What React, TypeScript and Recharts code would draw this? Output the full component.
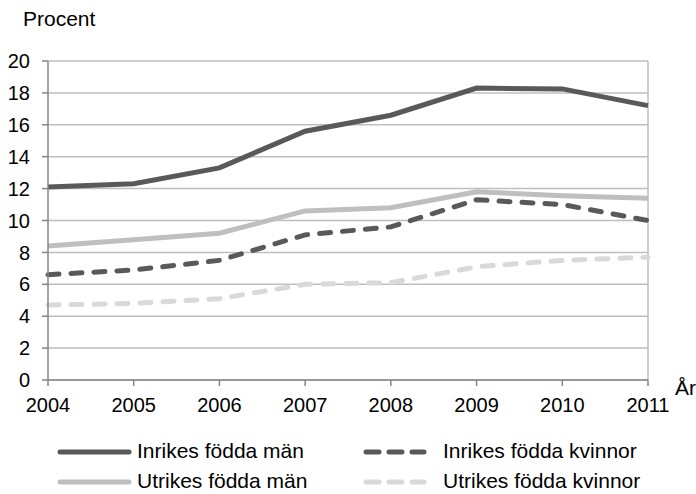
import React from 'react';
import { LineChart, Line, XAxis, YAxis, CartesianGrid, ReferenceLine } from 'recharts';

const years = ['2004', '2005', '2006', '2007', '2008', '2009', '2010', '2011'];
const inrikesMan = [12.1, 12.3, 13.3, 15.6, 16.6, 18.3, 18.25, 17.2];
const inrikesKvinnor = [6.6, 6.9, 7.5, 9.1, 9.6, 11.3, 11.0, 10.0];
const utrikesMan = [8.4, 8.8, 9.2, 10.6, 10.8, 11.8, 11.55, 11.4];
const utrikesKvinnor = [4.7, 4.8, 5.1, 6.0, 6.1, 7.1, 7.5, 7.7];
const yTicks = [0, 2, 4, 6, 8, 10, 12, 14, 16, 18, 20];

const seriesNames = {
  im: 'Inrikes födda män',
  ik: 'Inrikes födda kvinnor',
  um: 'Utrikes födda män',
  uk: 'Utrikes födda kvinnor',
};

const data = years.map((y, i) => ({
  year: y,
  im: inrikesMan[i],
  ik: inrikesKvinnor[i],
  um: utrikesMan[i],
  uk: utrikesKvinnor[i],
}));

const DARK = '#595959';
const LIGHT = '#bfbfbf';
const VLIGHT = '#d9d9d9';
const AXIS = '#868686';
const GRID = '#bfbfbf';
const FONT = '"Liberation Sans", Arial, sans-serif';
const DASH = '11 12';

export default function App() {
  const tickStyle = { fontSize: 20, fill: '#000', fontFamily: FONT };
  return (
    <div style={{ position: 'absolute', left: 0, top: 0, width: 696, height: 494, background: '#fff', fontFamily: FONT }}>
      <LineChart width={696} height={494} data={data} margin={{ top: 61, right: 48, bottom: 84, left: 0 }}>
        <CartesianGrid vertical={false} stroke={GRID} strokeWidth={1.5} />
        <ReferenceLine x="2011" stroke={GRID} strokeWidth={1.5} />
        <XAxis
          dataKey="year"
          height={30}
          stroke={AXIS}
          strokeWidth={1.5}
          tickSize={6}
          tickMargin={12}
          tick={tickStyle}
          interval={0}
        />
        <YAxis
          width={48}
          domain={[0, 20]}
          ticks={yTicks}
          stroke={AXIS}
          strokeWidth={1.5}
          tickSize={6}
          tickMargin={12}
          tick={tickStyle}
          interval={0}
        />
        <Line dataKey="ik" name={seriesNames.ik} stroke={DARK} strokeWidth={5} strokeDasharray={DASH} strokeLinecap="round" dot={false} isAnimationActive={false} />
        <Line dataKey="uk" name={seriesNames.uk} stroke={VLIGHT} strokeWidth={5} strokeDasharray={DASH} strokeLinecap="round" dot={false} isAnimationActive={false} />
        <Line dataKey="um" name={seriesNames.um} stroke={LIGHT} strokeWidth={5} dot={false} isAnimationActive={false} />
        <Line dataKey="im" name={seriesNames.im} stroke={DARK} strokeWidth={5} dot={false} isAnimationActive={false} />
      </LineChart>
      <svg width={696} height={494} style={{ position: 'absolute', left: 0, top: 0, pointerEvents: 'none' }}>
        <text x={23} y={26} fontSize={21} fontFamily={FONT} fill="#000">Procent</text>
        <text x={675} y={395} fontSize={21} fontFamily={FONT} fill="#000">År</text>
        <line x1={60} y1={452} x2={129} y2={452} stroke={DARK} strokeWidth={5} strokeLinecap="round" />
        <text x={137} y={458} fontSize={21} fontFamily={FONT} fill="#000">{seriesNames.im}</text>
        <line x1={60} y1={482} x2={129} y2={482} stroke={LIGHT} strokeWidth={5} strokeLinecap="round" />
        <text x={137} y={488} fontSize={21} fontFamily={FONT} fill="#000">{seriesNames.um}</text>
        <line x1={366} y1={452} x2={424} y2={452} stroke={DARK} strokeWidth={5} strokeLinecap="round" strokeDasharray="13 10" />
        <text x={443} y={458} fontSize={21} fontFamily={FONT} fill="#000">{seriesNames.ik}</text>
        <line x1={366} y1={482} x2={424} y2={482} stroke={VLIGHT} strokeWidth={5} strokeLinecap="round" strokeDasharray="13 10" />
        <text x={443} y={488} fontSize={21} fontFamily={FONT} fill="#000">{seriesNames.uk}</text>
      </svg>
    </div>
  );
}
